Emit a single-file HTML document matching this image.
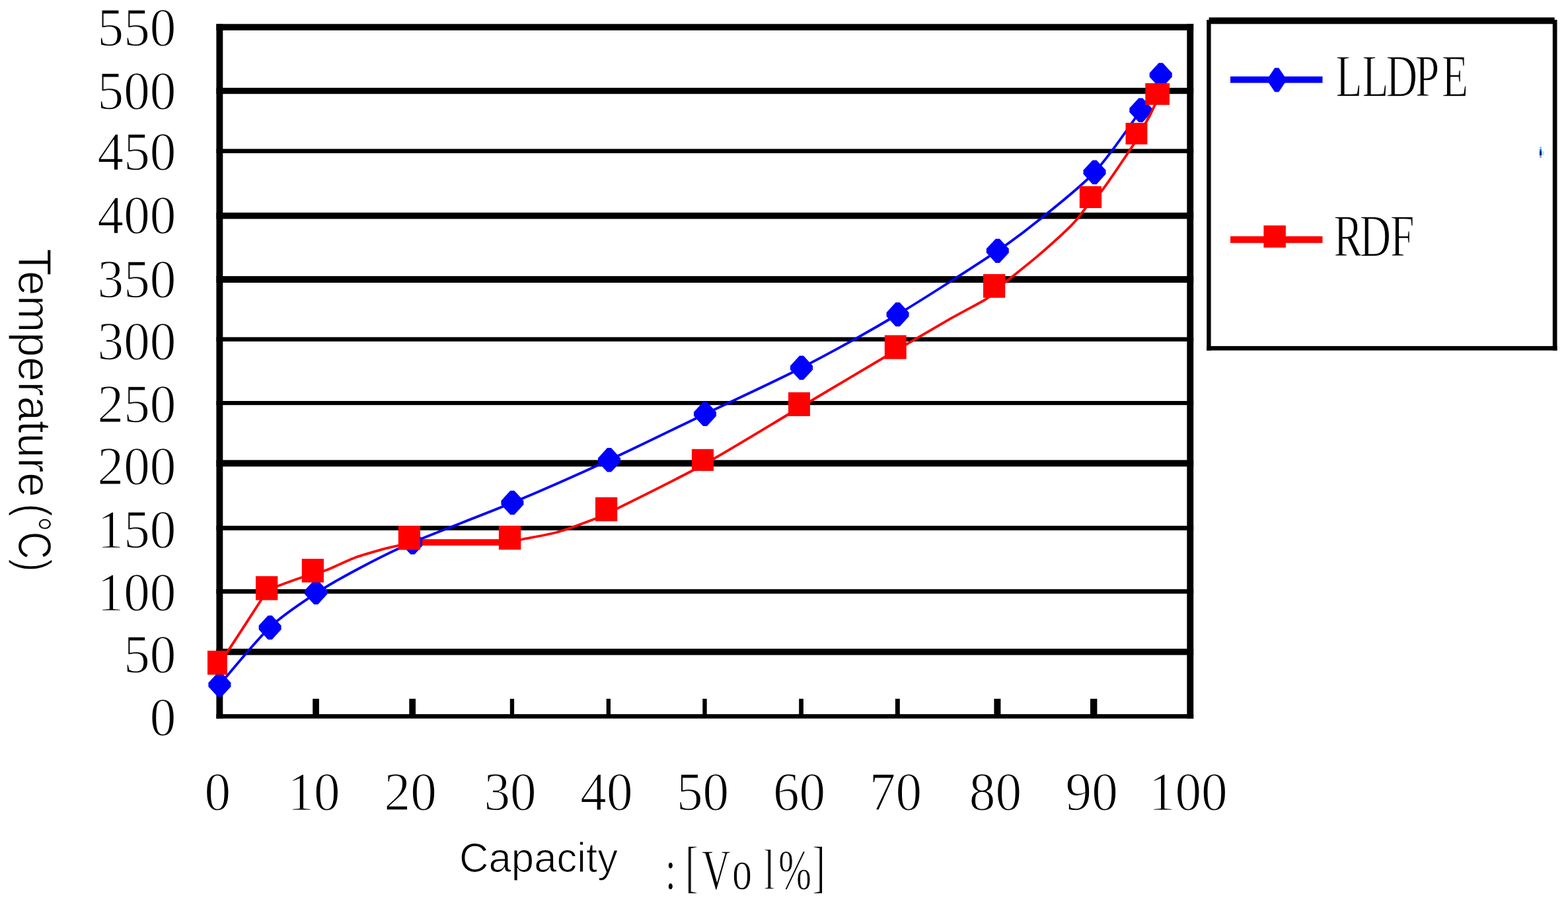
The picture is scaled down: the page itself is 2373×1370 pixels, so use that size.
<!DOCTYPE html>
<html><head><meta charset="utf-8"><title>Temperature vs Capacity</title>
<style>html,body{margin:0;padding:0;background:#fff;overflow:hidden}svg{display:block}</style>
</head><body>
<svg width="2373" height="1370" viewBox="0 0 2373 1370"><rect x="0" y="0" width="2373" height="1370" fill="#fff"/>
<g fill="#000">
<rect x="327.4" y="36.3" width="1478.8" height="9.7"/>
<rect x="327.4" y="132.9" width="1478.8" height="9.3"/>
<rect x="327.4" y="225.4" width="1478.8" height="6.5"/>
<rect x="327.4" y="321.8" width="1478.8" height="9.6"/>
<rect x="327.4" y="418.0" width="1478.8" height="10.0"/>
<rect x="327.4" y="510.4" width="1478.8" height="6.5"/>
<rect x="327.4" y="607.0" width="1478.8" height="6.2"/>
<rect x="327.4" y="696.4" width="1478.8" height="9.9"/>
<rect x="327.4" y="795.9" width="1478.8" height="6.9"/>
<rect x="327.4" y="891.9" width="1478.8" height="6.8"/>
<rect x="327.4" y="982.0" width="1478.8" height="9.6"/>
<rect x="327.4" y="1081.1" width="1478.8" height="6.6"/>
<rect x="327.4" y="36.3" width="9.9" height="1051.4"/>
<rect x="1796.3" y="36.3" width="9.9" height="1051.4"/>
<rect x="473.2" y="1057.8" width="9.7" height="24.3"/>
<rect x="619.3" y="1057.8" width="9.7" height="24.3"/>
<rect x="771.8" y="1057.8" width="6.3" height="24.3"/>
<rect x="917.7" y="1057.8" width="6.3" height="24.3"/>
<rect x="1063.3" y="1057.8" width="6.4" height="24.3"/>
<rect x="1209.2" y="1057.8" width="6.7" height="24.3"/>
<rect x="1354.9" y="1057.8" width="6.9" height="24.3"/>
<rect x="1504.4" y="1057.8" width="10.0" height="24.3"/>
<rect x="1650.0" y="1057.8" width="10.4" height="24.3"/>
</g>
<path d="M332.4,1036.5 C343.0,1024.3 388.0,969.0 408.4,949.6 C428.8,930.2 459.3,910.6 478.4,898.0 C497.5,885.4 524.4,870.5 544.8,859.7 C565.2,848.9 592.1,834.8 624.4,821.0 C656.7,807.2 733.7,778.4 775.4,761.0 C817.1,743.6 881.2,715.2 922.0,696.4 C962.8,677.6 1026.3,646.3 1067.0,626.7 C1107.7,607.1 1172.2,577.8 1213.0,556.7 C1253.8,535.6 1317.0,500.8 1358.6,476.0 C1400.2,451.2 1479.9,399.6 1509.8,379.6 C1539.7,359.6 1551.6,350.0 1572.1,333.3 C1592.6,316.6 1634.9,283.9 1656.5,260.6 C1678.1,237.3 1712.3,187.4 1726.3,166.8 C1740.3,146.2 1752.4,121.0 1756.7,113.6" fill="none" stroke="#00f" stroke-width="3.8" stroke-linejoin="round"/>
<g fill="#00f">
<polygon points="329.4,1018.2 335.4,1018.2 349.4,1033.5 349.4,1039.5 335.4,1054.8 329.4,1054.8 315.4,1039.5 315.4,1033.5"/>
<polygon points="405.6,931.8 411.6,931.8 425.6,947.0 425.6,953.0 411.6,968.2 405.6,968.2 391.6,953.0 391.6,947.0"/>
<polygon points="475.2,878.4 481.2,878.4 495.2,893.6 495.2,899.6 481.2,914.9 475.2,914.9 461.2,899.6 461.2,893.6"/>
<polygon points="621.4,802.8 627.4,802.8 641.4,818.0 641.4,824.0 627.4,839.2 621.4,839.2 607.4,824.0 607.4,818.0"/>
<polygon points="772.4,742.8 778.4,742.8 792.4,758.0 792.4,764.0 778.4,779.2 772.4,779.2 758.4,764.0 758.4,758.0"/>
<polygon points="919.0,678.1 925.0,678.1 939.0,693.4 939.0,699.4 925.0,714.6 919.0,714.6 905.0,699.4 905.0,693.4"/>
<polygon points="1064.0,608.5 1070.0,608.5 1084.0,623.7 1084.0,629.7 1070.0,645.0 1064.0,645.0 1050.0,629.7 1050.0,623.7"/>
<polygon points="1210.0,538.5 1216.0,538.5 1230.0,553.8 1230.0,559.8 1216.0,575.0 1210.0,575.0 1196.0,559.8 1196.0,553.8"/>
<polygon points="1355.6,457.8 1361.6,457.8 1375.6,473.0 1375.6,479.0 1361.6,494.2 1355.6,494.2 1341.6,479.0 1341.6,473.0"/>
<polygon points="1506.8,361.4 1512.8,361.4 1526.8,376.6 1526.8,382.6 1512.8,397.9 1506.8,397.9 1492.8,382.6 1492.8,376.6"/>
<polygon points="1653.5,242.4 1659.5,242.4 1673.5,257.6 1673.5,263.6 1659.5,278.9 1653.5,278.9 1639.5,263.6 1639.5,257.6"/>
<polygon points="1723.3,148.6 1729.3,148.6 1743.3,163.8 1743.3,169.8 1729.3,185.1 1723.3,185.1 1709.3,169.8 1709.3,163.8"/>
<polygon points="1753.7,95.3 1759.7,95.3 1773.7,110.6 1773.7,116.6 1759.7,131.8 1753.7,131.8 1739.7,116.6 1739.7,110.6"/>
</g>
<path d="M329.0,1008.0 C331.2,1005.0 335.5,1000.0 344.5,986.4 C353.5,972.8 385.3,923.7 393.6,910.8 C401.9,897.9 400.3,897.3 404.0,894.0 C407.7,890.7 412.7,890.1 420.1,887.3 C427.5,884.5 449.5,876.5 456.9,874.0 C464.3,871.5 467.7,871.1 473.0,869.5 C478.3,867.9 485.4,866.4 494.6,862.8 C503.8,859.2 526.1,848.3 538.4,843.8 C550.7,839.3 573.3,833.2 582.2,830.7 C591.1,828.2 596.8,827.3 602.0,826.0 C607.2,824.7 617.0,822.0 619.4,821.3" fill="none" stroke="#f00" stroke-width="3.8" stroke-linejoin="round"/>
<path d="M771.6,821.0 C774.2,820.4 779.6,818.7 790.0,816.5 C800.4,814.3 830.2,809.4 845.7,805.0 C861.2,800.6 890.8,789.1 900.9,785.3 C911.0,781.5 894.8,789.4 917.6,778.0 C940.4,766.6 1022.6,726.5 1063.5,704.0 C1104.4,681.5 1168.6,641.7 1209.4,617.5 C1250.2,593.3 1322.9,549.9 1355.0,531.0 C1387.1,512.1 1419.7,493.1 1438.8,482.2 C1457.9,471.3 1482.1,459.1 1491.4,453.3 C1500.7,447.5 1500.7,444.8 1505.0,441.0 C1509.3,437.2 1513.0,434.1 1522.4,426.4 C1531.8,418.7 1558.2,398.1 1572.1,386.1 C1586.0,374.1 1612.2,350.3 1621.7,340.8 C1631.2,331.3 1636.3,323.4 1640.3,318.4 C1644.3,313.4 1646.7,309.1 1650.5,305.0 C1654.3,300.9 1658.5,300.8 1667.5,288.8 C1676.5,276.8 1707.7,230.5 1715.0,219.5 C1722.3,208.5 1716.5,216.2 1720.0,210.0 C1723.5,203.8 1735.6,183.4 1740.0,175.0 C1744.4,166.6 1750.1,153.5 1751.7,150.0" fill="none" stroke="#f00" stroke-width="3.8" stroke-linejoin="round"/>
<rect x="639" y="816.2" width="125" height="9.7" fill="#f00"/>
<g fill="#f00">
<rect x="314.0" y="985.0" width="29.8" height="36.4"/>
<rect x="387.0" y="872.2" width="33.3" height="36.3"/>
<rect x="456.8" y="845.9" width="33.2" height="35.8"/>
<rect x="602.8" y="796.1" width="33.2" height="36.3"/>
<rect x="754.9" y="795.9" width="33.4" height="36.2"/>
<rect x="901.0" y="752.7" width="33.2" height="36.4"/>
<rect x="1046.9" y="679.8" width="33.1" height="33.1"/>
<rect x="1193.0" y="593.8" width="32.9" height="36.2"/>
<rect x="1338.8" y="507.4" width="32.9" height="36.2"/>
<rect x="1488.0" y="414.9" width="33.2" height="35.9"/>
<rect x="1633.8" y="281.8" width="33.3" height="33.2"/>
<rect x="1703.5" y="185.9" width="32.9" height="32.7"/>
<rect x="1733.3" y="125.9" width="36.7" height="32.9"/>
</g>
<g font-family="'Liberation Serif', 'Noto Serif CJK SC', serif" font-size="83" fill="#000" stroke="#fff" stroke-width="1.4" text-anchor="end">
<text transform="translate(266.5,68.6) scale(0.955,1)">550</text>
<text transform="translate(266.5,165.0) scale(0.955,1)">500</text>
<text transform="translate(266.5,257.0) scale(0.955,1)">450</text>
<text transform="translate(266.5,353.3) scale(0.955,1)">400</text>
<text transform="translate(266.5,450.2) scale(0.955,1)">350</text>
<text transform="translate(266.5,543.6) scale(0.955,1)">300</text>
<text transform="translate(266.5,639.4) scale(0.955,1)">250</text>
<text transform="translate(266.5,732.8) scale(0.955,1)">200</text>
<text transform="translate(266.5,828.6) scale(0.955,1)">150</text>
<text transform="translate(266.5,924.4) scale(0.955,1)">100</text>
<text transform="translate(266.5,1017.5) scale(0.955,1)">50</text>
<text transform="translate(266.5,1113.1) scale(0.955,1)">0</text>
</g>
<g font-family="'Liberation Serif', 'Noto Serif CJK SC', serif" font-size="83" fill="#000" stroke="#fff" stroke-width="1.4" text-anchor="middle">
<text transform="translate(329.4,1225.6) scale(0.955,1)">0</text>
<text transform="translate(475.0,1225.6) scale(0.955,1)">10</text>
<text transform="translate(621.2,1225.6) scale(0.955,1)">20</text>
<text transform="translate(772.0,1225.6) scale(0.955,1)">30</text>
<text transform="translate(917.9,1225.6) scale(0.955,1)">40</text>
<text transform="translate(1063.5,1225.6) scale(0.955,1)">50</text>
<text transform="translate(1209.6,1225.6) scale(0.955,1)">60</text>
<text transform="translate(1355.4,1225.6) scale(0.955,1)">70</text>
<text transform="translate(1506.4,1225.6) scale(0.955,1)">80</text>
<text transform="translate(1652.2,1225.6) scale(0.955,1)">90</text>
<text transform="translate(1798.3,1225.6) scale(0.955,1)">100</text>
</g>
<text font-family="'Liberation Sans', 'Noto Sans CJK SC', sans-serif" font-size="70" fill="#000" stroke="#fff" stroke-width="1.2" transform="translate(27.5,376.5) rotate(90)"><tspan textLength="376" lengthAdjust="spacingAndGlyphs">Temperature</tspan> <tspan x="386" textLength="103" lengthAdjust="spacingAndGlyphs">(°C)</tspan></text>
<text font-family="'Liberation Sans', 'Noto Sans CJK SC', sans-serif" font-size="63.5" fill="#000" stroke="#fff" stroke-width="1.2" x="695" y="1320.3" textLength="240" lengthAdjust="spacingAndGlyphs">Capacity</text>
<text font-family="'Liberation Serif', 'Noto Serif CJK SC', serif" font-size="86" fill="#000" stroke="#fff" stroke-width="1.3" transform="scale(0.700,1)" x="1437.9 1481.4 1517.1 1582.9 1651.4 1682.9 1755.7" y="1346" dy="0 -5 5 0 0 0 -5">:[Vol%]</text>
<g fill="#000"><rect x="1829.6" y="26.4" width="523.1" height="9.9"/><rect x="1826.2" y="30.1" width="6.4" height="500.4"/><rect x="2349.8" y="30" width="6.7" height="500.5"/><rect x="1826.2" y="523.9" width="530.3" height="6.6"/></g>
<rect x="1862" y="115.7" width="139.5" height="9.8" fill="#00f"/>
<g fill="#00f"><polygon points="1929.3,102.7 1935.3,102.7 1945.5,117.9 1945.5,123.9 1935.3,139.2 1929.3,139.2 1919.0,123.9 1919.0,117.9"/></g>
<rect x="1862" y="357.6" width="139.5" height="10.2" fill="#f00"/>
<rect x="1912.4" y="341.3" width="33.5" height="33.5" fill="#f00"/>
<text font-family="'Liberation Serif', 'Noto Serif CJK SC', serif" font-size="91" fill="#000" stroke="#fff" stroke-width="1.3" transform="scale(0.720,1)" x="2807.6 2863.2 2913.5 2974.7 3030.7" y="145.6">LLDPE</text>
<text font-family="'Liberation Serif', 'Noto Serif CJK SC', serif" font-size="91" fill="#000" stroke="#fff" stroke-width="1.3" transform="scale(0.720,1)" x="2803.6 2858.1 2922.2" y="387.8">RDF</text>
<g><rect x="2330" y="222" width="3" height="4" fill="#7fd4f2"/><rect x="2330" y="226" width="3" height="3" fill="#0a6fc0"/><rect x="2330" y="229" width="3" height="6.5" fill="#000078"/><rect x="2330" y="235.5" width="3" height="3.5" fill="#a8a4d4"/><rect x="2333" y="229" width="3.5" height="6" fill="#a6ecfb"/></g></svg>
</body></html>
